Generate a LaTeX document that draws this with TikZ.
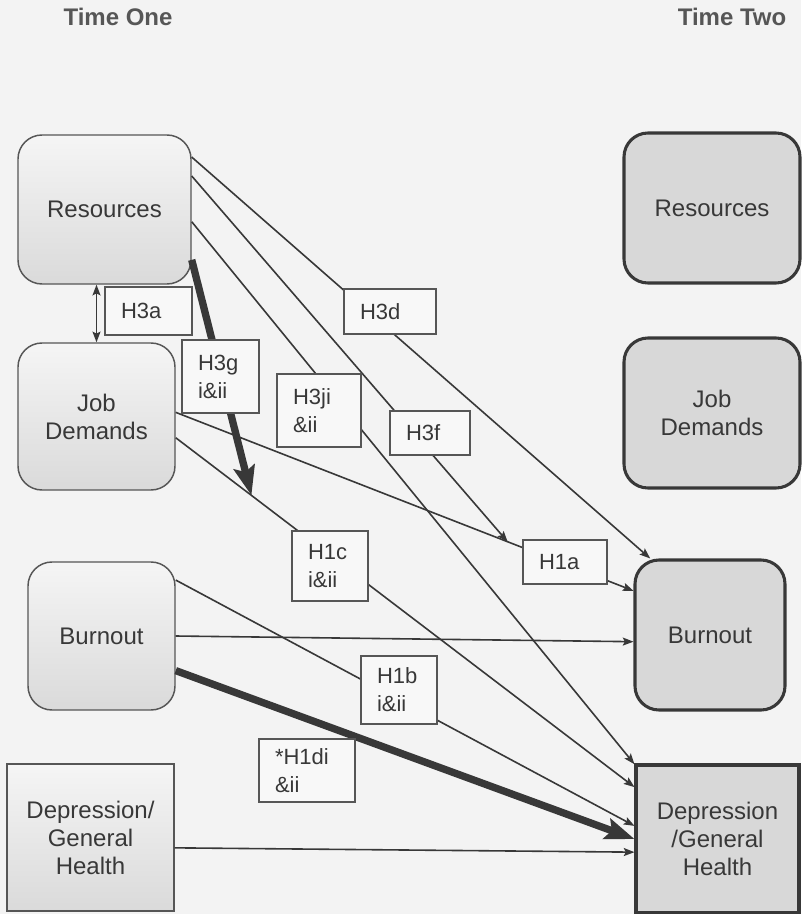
\documentclass[tikz,border=0pt]{standalone}
\usepackage{fontspec}
\setmainfont{Liberation Sans}
\usetikzlibrary{arrows.meta,positioning}
\definecolor{bgcol}{HTML}{F3F3F3}
\definecolor{inkcol}{HTML}{383838}
\definecolor{boxtop}{HTML}{F5F5F5}
\definecolor{boxbot}{HTML}{DADADA}
\definecolor{boxdark}{HTML}{D8D8D8}
\tikzset{
>={Stealth[length=8pt, width=6pt, inset=1.5pt]}, % arrow heads
every node/.style={text=inkcol}, % dark grey text everywhere
t1/.style={draw=inkcol!85, line width=1.1pt, top color=boxtop, bottom color=boxbot, rounded corners=18pt, align=center, font=\fontsize{18}{21}\selectfont}, % boxes at time one
t2/.style={draw=inkcol, line width=2.3pt, fill=boxdark, rounded corners=18pt, align=center, font=\fontsize{18}{21}\selectfont}, % boxes at time two
hyp/.style={draw=inkcol!85, line width=0.8pt, fill=bgcol!60!white, align=left, inner xsep=12pt, font=\fontsize{16.5}{21}\selectfont, text width=#1}, % hypothesis labels
link/.style={->, draw=inkcol, line width=1.2pt}, % thin paths
strong/.style={-{Stealth[length=22pt, width=16pt, inset=4pt]}, draw=inkcol, line width=5.5pt}, % significant paths
heading/.style={font=\bfseries\fontsize{18}{21}\selectfont, text=inkcol!85}, % column titles
}
\begin{document}
\begin{tikzpicture}[x=0.75pt, y=-0.75pt]
\path[use as bounding box, fill=bgcol] (0,0) rectangle (801,914);

\node[heading] (one) at (118,17) {Time One};
\node[heading] (two) at (732,17) {Time Two};

% time one
\node[t1, minimum width=129.75pt, minimum height=111.75pt] (resL) at (104.5,209.5) {Resources};
\node[t1, minimum width=117.75pt, minimum height=110.25pt] (jobL) at (96.5,416.5) {Job\\Demands};
\node[t1, minimum width=110.25pt, minimum height=111pt] (burL) at (101.5,636) {Burnout};
\node[t1, rounded corners=0pt, minimum width=125.25pt, minimum height=110.25pt] (depL) at (90.5,837.5) {Depression/\\General\\Health};

% time two
\node[t2, minimum width=132pt, minimum height=112.5pt] (resR) at (712,208) {Resources};
\node[t2, minimum width=132pt, minimum height=112.5pt] (jobR) at (712,413) {Job\\Demands};
\node[t2, minimum width=112.5pt, minimum height=112.5pt] (burR) at (710,635) {Burnout};
\node[t2, rounded corners=0pt, minimum width=122.25pt, minimum height=111pt] (depR) at (717.5,839) {Depression\\/General\\Health};

% paths
\draw[link, <->] (jobL.north |- resL.south) -- (jobL.north);
\draw[link] (resL.31) -- (burR.128);
\draw[link] (jobL.3) -- coordinate[pos=0.725] (jdbur) (burR.150);
\draw[link] (jobL.-15) -- coordinate[pos=0.165] (jddep) (depR.148);
\draw[link] (resL.21) -- (jdbur);
\draw[strong] (resL.-30) -- (jddep);
\draw[link] (resL.-8) -- (depR.138);
\draw[link] (burL.east) -- (burR.185);
\draw[link] (burL.37) -- (depR.171);
\draw[strong] (burL.-25) -- (depR.west);
\draw[link] (depL.-7) -- (depR.189);

% hypotheses
\node[hyp=41.25pt, minimum height=36pt] (h3a) at (148.5,311) {H3a};
\node[hyp=33.75pt, minimum height=54.75pt] (h3g) at (220.5,376.5) {H3g\\i\&ii};
\node[hyp=39pt, minimum height=54.75pt] (h3j) at (319,410.5) {H3ji\\\&ii};
\node[hyp=45pt, minimum height=33.75pt] (h3d) at (390,311.5) {H3d};
\node[hyp=36pt, minimum height=33pt] (h3f) at (430,433) {H3f};
\node[hyp=33pt, minimum height=52.5pt] (h1c) at (330,566) {H1c\\i\&ii};
\node[hyp=39pt, minimum height=33pt] (h1a) at (565,562) {H1a};
\node[hyp=33pt, minimum height=51pt] (h1b) at (399,690) {H1b\\i\&ii};
\node[hyp=48pt, minimum height=47.25pt] (h1d) at (307,770.5) {*H1di\\\&ii};
\end{tikzpicture}
\end{document}
